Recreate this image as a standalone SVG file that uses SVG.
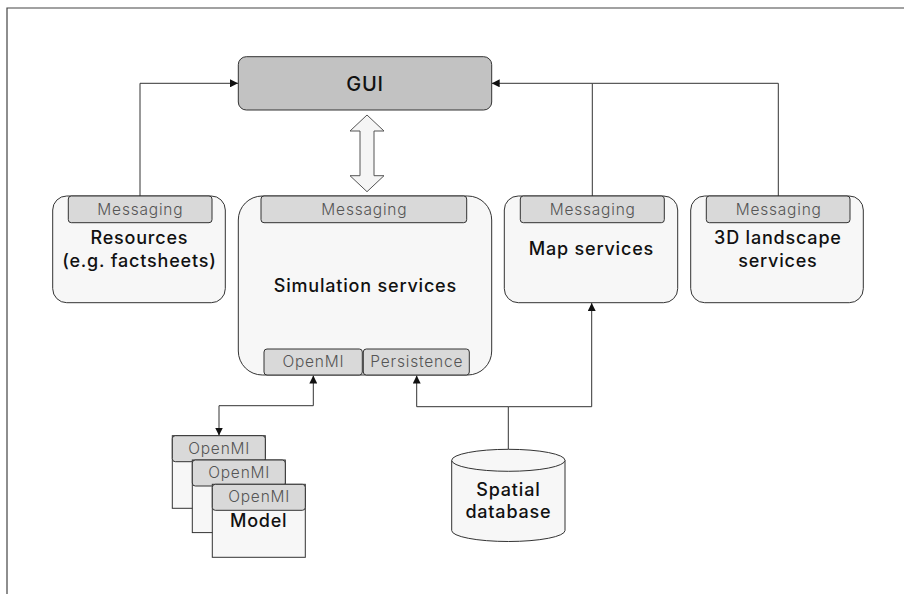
<svg xmlns="http://www.w3.org/2000/svg" width="904" height="594" viewBox="0 0 904 594">
  <defs>
    <marker id="arrow" viewBox="0 0 10 10" refX="10" refY="5" markerWidth="8" markerHeight="8" markerUnits="userSpaceOnUse" orient="auto-start-reverse">
      <path d="M0,0 L10,5 L0,10 Z" fill="#111"/>
    </marker>
    <style>
      .frame { fill: none; stroke: #444; stroke-width: 1.2; }
      .box { fill: #f7f7f7; stroke: #333; stroke-width: 1; }
      .tab { fill: #d9d9d9; stroke: #333; stroke-width: 1; }
      .gui { fill: #c2c2c2; stroke: #333; stroke-width: 1; }
      .link { fill: none; stroke: #333; stroke-width: 1; }
      .tabtxt { font-family: Inter, "Open Sans", "Liberation Sans", sans-serif; font-size: 15.5px; font-weight: 300; letter-spacing: 0.8px; fill: #555; text-anchor: middle; }
      .label { font-family: Inter, "Open Sans", "Liberation Sans", sans-serif; font-size: 18px; font-weight: 500; letter-spacing: 0.8px; fill: #111; text-anchor: middle; }
    </style>
  </defs>

  <rect width="904" height="594" fill="#fff"/>
  <!-- frame: top and left rules only -->
  <path class="frame" d="M7,594 V8 H904"/>

  <!-- connectors -->
  <g id="connectors">
    <path class="link" d="M140,196 V83.3 H238" marker-end="url(#arrow)"/>
    <path class="link" d="M778.3,196 V83.3 H592.3"/>
    <path class="link" d="M592.3,196 V83.3 H491.7" marker-end="url(#arrow)"/>
    <polygon points="367,115 384,131 374,131 374,175.7 384,175.7 367,191.7 350,175.7 360,175.7 360,131 350,131" fill="#f5f5f5" stroke="#555" stroke-width="1"/>
    <path class="link" d="M313.3,375.5 V405.7 H219 V435.5" marker-start="url(#arrow)" marker-end="url(#arrow)"/>
    <path class="link" d="M508.3,449 V406.7 H416.7 V375.5" marker-end="url(#arrow)"/>
    <path class="link" d="M508.3,406.7 H591.7 V303" marker-end="url(#arrow)"/>
  </g>

  <g id="gui">
    <rect class="gui" x="238.3" y="56.7" width="253.4" height="53.3" rx="8"/>
    <text class="label" x="365" y="91" style="font-size:20px">GUI</text>
  </g>

  <g id="resources">
    <rect class="box" x="52.7" y="196" width="172.6" height="106.7" rx="14"/>
    <rect class="tab" x="68.3" y="196" width="143.7" height="26.7" rx="3"/>
    <text class="tabtxt" x="140.4" y="214.8">Messaging</text>
    <text class="label" x="139.4" y="244.3">Resources</text>
    <text class="label" x="139.4" y="266.8">(e.g. factsheets)</text>
  </g>

  <g id="simulation">
    <rect class="box" x="238.3" y="196" width="253.4" height="179" rx="24"/>
    <rect class="tab" x="261" y="196" width="205.7" height="26.7" rx="3"/>
    <text class="tabtxt" x="364.4" y="214.8">Messaging</text>
    <text class="label" x="365.4" y="291.8">Simulation services</text>
    <rect class="tab" x="264" y="349" width="98.3" height="26" rx="3"/>
    <text class="tabtxt" x="313.4" y="367">OpenMI</text>
    <rect class="tab" x="363.3" y="349" width="106" height="26" rx="3"/>
    <text class="tabtxt" x="416.8" y="367">Persistence</text>
  </g>

  <g id="map">
    <rect class="box" x="504.3" y="196" width="173.4" height="106.7" rx="14"/>
    <rect class="tab" x="520.3" y="196" width="144" height="26.7" rx="3"/>
    <text class="tabtxt" x="592.7" y="214.8">Messaging</text>
    <text class="label" x="591.4" y="255.3">Map services</text>
  </g>

  <g id="landscape">
    <rect class="box" x="690.7" y="196" width="172.6" height="106.7" rx="14"/>
    <rect class="tab" x="706.3" y="196" width="143.7" height="26.7" rx="3"/>
    <text class="tabtxt" x="778.7" y="214.8">Messaging</text>
    <text class="label" x="777.9" y="244.3">3D landscape</text>
    <text class="label" x="777.9" y="266.8">services</text>
  </g>

  <!-- stacked model cards, back to front -->
  <g id="models">
    <g id="model-1">
      <rect class="box" x="172.3" y="435.7" width="93" height="72.6"/>
      <rect class="tab" x="172.3" y="435.7" width="93" height="26" rx="3"/>
      <text class="tabtxt" x="219.2" y="453.8">OpenMI</text>
    </g>
    <g id="model-2">
      <rect class="box" x="192.3" y="460" width="93" height="72.6"/>
      <rect class="tab" x="192.3" y="460" width="93" height="26" rx="3"/>
      <text class="tabtxt" x="239.2" y="478.1">OpenMI</text>
    </g>
    <g id="model-3">
      <rect class="box" x="212.3" y="484.3" width="93" height="73"/>
      <rect class="tab" x="212.3" y="484.3" width="93" height="26" rx="3"/>
      <text class="tabtxt" x="259.2" y="502.3">OpenMI</text>
      <text class="label" x="258.7" y="527">Model</text>
    </g>
  </g>

  <g id="database">
    <path class="box" d="M451.7,460.3 V530.5 A56.65,11 0 0 0 565,530.5 V460.3"/>
    <ellipse class="box" cx="508.35" cy="460.3" rx="56.65" ry="11"/>
    <text class="label" x="508.4" y="496.3">Spatial</text>
    <text class="label" x="508.4" y="517.6">database</text>
  </g>
</svg>
